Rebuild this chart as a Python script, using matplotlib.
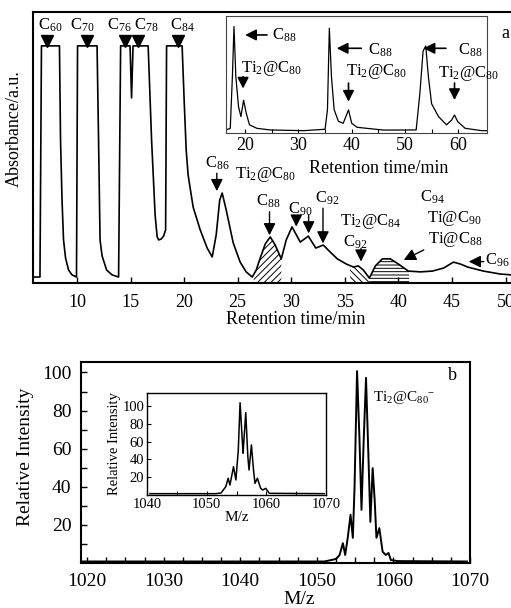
#!/usr/bin/env python
# HPLC chromatogram (a) and mass spectrum (b) of Ti2@C80
import numpy as np
import matplotlib
matplotlib.use('Agg')
from matplotlib import pyplot as plt

plt.rcParams['font.family'] = 'Liberation Serif'
plt.rcParams['mathtext.fontset'] = 'custom'
plt.rcParams['mathtext.rm'] = 'Liberation Serif'
plt.rcParams['mathtext.it'] = 'Liberation Serif:italic'
plt.rcParams['hatch.linewidth'] = 0.7

# ---- panel a: chromatogram (retention time, absorbance in % of frame height)
t_a = [5.89, 6.54, 6.68, 8.36, 8.46, 8.60, 8.74, 8.93, 9.21, 9.53, 9.95,
       10.05, 11.87, 12.01, 12.15, 12.34, 12.76, 13.27, 13.88,
       14.07, 14.95, 15.09, 15.23, 16.64, 16.96, 17.29, 17.48, 17.62, 17.85, 18.08, 18.27,
       18.36, 19.81, 20.00, 20.19, 20.37, 20.84, 21.50, 22.15, 22.62, 22.99, 23.32,
       23.55, 23.93, 24.58, 25.23, 25.79, 26.36, 26.73, 27.10, 27.57, 28.04, 28.50,
       29.07, 29.53, 30.07, 30.84, 31.59, 32.29, 32.99, 33.64, 34.30, 35.14, 35.79,
       36.26, 36.73, 37.29, 37.85, 38.50, 39.25, 40.00, 40.93, 42.06, 43.18, 44.21,
       45.14, 45.79, 46.45, 47.94, 49.53, 50.56]
abs_a = [2.2, 2.2, 87.5, 87.5, 52.8, 30.6, 15.9, 9.2, 4.8, 3.0, 2.2,
         87.5, 87.5, 52.8, 15.9, 10.0, 4.8, 3.0, 2.2,
         87.5, 87.5, 68.3, 87.5, 87.5, 52.8, 25.1, 17.0, 15.9, 16.2, 17.3, 19.6,
         87.5, 87.5, 67.5, 49.1, 39.9, 28.0, 19.6, 12.9, 9.6, 17.7, 30.6,
         33.2, 26.9, 14.8, 7.7, 4.1, 2.2, 4.8, 9.2, 14.4, 17.0, 14.0,
         8.9, 15.9, 20.7, 15.1, 17.3, 12.9, 14.0, 11.4, 8.9, 7.0, 5.9,
         6.3, 4.8, 1.8, 6.3, 8.9, 8.9, 7.0, 4.4, 4.1, 4.4, 5.5,
         7.7, 7.0, 5.9, 4.4, 3.3, 3.0]

# shaded fractions: (start, end, hatch)
fractions = [(26.5, 29.07, '/////'), (35.5, 37.29, '\\\\\\\\\\'), (37.29, 41.0, '-----')]

# top labels of saturated peaks
top_names = ['C$_{60}$', 'C$_{70}$', 'C$_{76}$', 'C$_{78}$', 'C$_{84}$']
top_text_t = [7.48, 10.51, 13.97, 16.43, 19.79]
top_mark_t = [7.16, 10.90, 14.49, 15.73, 19.47]

# other peak labels: (text, t, value)
peak_labels = [('C$_{86}$', 23.05, 44.2), ('Ti$_2$@C$_{80}$', 27.57, 39.9),
               ('C$_{88}$', 27.88, 30.0), ('C$_{90}$', 30.84, 27.3),
               ('C$_{92}$', 33.33, 31.3), ('Ti$_2$@C$_{84}$', 37.45, 22.6),
               ('C$_{92}$', 35.98, 15.2), ('C$_{94}$', 43.15, 31.8),
               ('Ti@C$_{90}$', 45.17, 23.9), ('Ti@C$_{88}$', 45.33, 15.9)]
# arrows: (tail t, tail v, head t, head v)
peak_arrows = [(23.05, 40.5, 23.05, 33.9), (27.97, 26.3, 27.97, 17.6),
               (30.47, 24.5, 30.47, 20.8), (31.62, 25.1, 31.62, 18.3),
               (32.96, 27.6, 32.96, 14.6), (36.51, 12.8, 36.51, 7.9),
               (42.37, 12.2, 40.5, 8.5), (47.97, 7.9, 46.57, 7.9)]

# ---- inset of panel a: recycling HPLC
t_in = [16.4, 17.2, 17.6, 17.9, 18.25, 18.75, 19.2, 19.7, 20.2, 20.8, 22.2, 24.7,
        31.0, 35.0, 35.45, 35.8, 36.2, 36.7, 37.5, 38.4, 39.4, 40.0, 41.0, 42.8,
        46.0, 52.1, 52.8, 53.4, 53.9, 54.4, 55.0, 56.3, 57.8, 58.75, 59.3, 59.9,
        61.3, 64.4, 65.4]
abs_in = [2.6, 4, 48, 91, 48, 22.5, 14, 28, 17, 7, 4, 2.6,
          2, 3.2, 20, 89.5, 48, 20, 10, 8.3, 19.7, 8.3, 4.9, 4,
          2.5, 2.6, 34, 70, 74.4, 48, 25, 14, 7, 11, 15.4, 9.7,
          4, 2, 2]
inset_labels = [('C$_{88}$', 27.3, 83.8), ('Ti$_2$@C$_{80}$', 24.9, 55.3),
                ('C$_{88}$', 45.3, 71.0), ('Ti$_2$@C$_{80}$', 44.7, 52.4),
                ('C$_{88}$', 62.3, 71.0), ('Ti$_2$@C$_{80}$', 61.9, 51.0)]
inset_arrows = [(24.1, 83.8, 20.0, 83.8), (19.6, 48.0, 19.6, 38.0),
                (41.8, 72.4, 37.2, 72.4), (39.4, 42.7, 39.4, 26.8),
                (57.7, 72.4, 53.5, 72.4), (59.3, 42.7, 59.3, 28.2)]

# ---- panel b: mass spectrum
mz_b = [1019.2, 1051.0, 1052.49, 1052.97, 1053.40, 1053.70, 1054.05, 1054.40, 1054.70,
        1054.92, 1055.25, 1055.56, 1055.83, 1056.12, 1056.42, 1056.73, 1056.99,
        1057.29, 1057.55, 1057.78, 1058.16, 1058.59, 1059.01, 1059.36, 1059.66,
        1060.53, 1069.6]
int_b = [0.8, 0.8, 2.1, 4.2, 10.4, 4.2, 13.8, 25.3, 13.2,
         39.5, 100.7, 65.8, 27.9, 64.7, 97.2, 56.8, 21.6,
         49.8, 33.2, 13.2, 18.3, 5.9, 4.2, 5.3, 1.6,
         1.0, 0.8]
mz_in = [1040.5, 1051.5, 1052.4, 1053.2, 1053.6, 1053.9, 1054.5, 1054.9, 1055.3,
         1055.6, 1056.0, 1056.1, 1056.55, 1056.9, 1057.1, 1057.5, 1057.85, 1058.1,
         1058.5, 1059.05, 1059.4, 1059.9, 1060.5, 1069.7]
int_in = [1.5, 1.5, 2.2, 9.3, 18.8, 11.2, 31.8, 16.9, 50.6,
          103.7, 58.1, 46.9, 92.5, 43.0, 28.1, 56.2, 28.1, 13.1,
          18.8, 7.5, 5.6, 7.5, 1.9, 1.5]

W, H = 511, 608
fig = plt.figure(figsize=(W / 100, H / 100), dpi=100)

def box(l, t, r, b):
    return [l / W, 1 - b / H, (r - l) / W, (b - t) / H]

big_head = '-|>,head_length=0.6,head_width=0.3'
small_head = '-|>,head_length=0.55,head_width=0.28'

# panel a
axa = fig.add_axes(box(33, 12, 513, 283))
axa.plot(t_a, abs_a, color='black', lw=1.2)
t_arr = np.array(t_a)
v_arr = np.array(abs_a)
for t0, t1, h in fractions:
    m = (t_arr >= t0) & (t_arr <= t1)
    tt = np.concatenate([[t0], t_arr[m], [t1]])
    vv = np.interp(tt, t_arr, v_arr)
    axa.fill_between(tt, 0, vv, facecolor='none', edgecolor='black', hatch=h, lw=0)
axa.set_xlim(5.89, 50.7)
axa.set_ylim(0, 100)
axa.set_yticks([])
axa.set_xticks(range(10, 55, 5))
axa.tick_params(direction='in', length=4, width=1, labelsize=13, pad=8)
for s in axa.spines.values():
    s.set_linewidth(1.5)
axa.spines['right'].set_visible(False)

for name, tt in zip(top_names, top_text_t):
    axa.text(tt, 95.2, name, ha='center', va='center', fontsize=12)
axa.plot(top_mark_t, [89.4] * len(top_mark_t), 'v', color='black', ms=8)
for name, tt, vv in peak_labels:
    axa.text(tt, vv, name, ha='center', va='center', fontsize=12)
axa.text(48.1, 8.5, 'C$_{96}$', ha='left', va='center', fontsize=12)
for x0, y0, x1, y1 in peak_arrows:
    axa.annotate('', xy=(x1, y1), xytext=(x0, y0),
                 arrowprops=dict(arrowstyle=big_head, color='black', lw=1,
                                 shrinkA=0, shrinkB=0, mutation_scale=12))

fig.text(14 / W, 1 - 129 / H, 'Absorbance/a.u.', rotation=90, ha='center', va='center', fontsize=13)
fig.text(296 / W, 1 - 319 / H, 'Retention time/min', ha='center', va='center', fontsize=13)
fig.text(505 / W, 1 - 33 / H, 'a', ha='center', va='center', fontsize=13)

# inset a
ina = fig.add_axes(box(226, 16, 487, 133))
ina.plot(t_in, abs_in, color='black', lw=0.9)
ina.set_xlim(16.4, 65.4)
ina.set_ylim(0, 100)
ina.set_yticks([])
ina.set_xticks([20, 30, 40, 50, 60])
ina.set_xticks(range(20, 65, 5), minor=True)
ina.tick_params(which='both', direction='in', length=3, width=0.8, labelsize=13, pad=3)
for s in ina.spines.values():
    s.set_linewidth(0.8)
    s.set_color('#444444')
for name, tt, vv in inset_labels:
    ina.text(tt, vv, name, ha='center', va='center', fontsize=12)
for x0, y0, x1, y1 in inset_arrows:
    ina.annotate('', xy=(x1, y1), xytext=(x0, y0),
                 arrowprops=dict(arrowstyle=small_head, color='black', lw=1.2,
                                 shrinkA=0, shrinkB=0, mutation_scale=12))
fig.text(379 / W, 1 - 168 / H, 'Retention time/min', ha='center', va='center', fontsize=13)

# panel b
axb = fig.add_axes(box(81, 362, 470, 563))
axb.plot(mz_b, int_b, color='black', lw=1.4)
axb.set_xlim(1019.2, 1069.6)
axb.set_ylim(0, 105.5)
axb.set_xticks(range(1020, 1080, 10))
axb.set_xticks(np.arange(1020, 1070, 2.5), minor=True)
axb.set_yticks(range(20, 120, 20))
axb.set_yticks(range(10, 110, 20), minor=True)
axb.tick_params(which='both', direction='in', length=4, width=1, labelsize=14, pad=7)
for s in axb.spines.values():
    s.set_linewidth(1.5)
axb.text(1061.4, 86.7, 'Ti$_2$@C$_{80}$$^{-}$', ha='center', va='center', fontsize=11)
fig.text(452 / W, 1 - 375 / H, 'b', ha='center', va='center', fontsize=13)
fig.text(26 / W, 1 - 457 / H, 'Relative Intensity', rotation=90, ha='center', va='center', fontsize=14)
fig.text(299 / W, 1 - 599 / H, 'M/z', ha='center', va='center', fontsize=14)

# inset b
inb = fig.add_axes(box(147, 393, 326, 495))
inb.plot(mz_in, int_in, color='black', lw=1.1)
inb.set_xlim(1040.5, 1069.7)
inb.set_ylim(0, 114.6)
inb.set_xticks(range(1040, 1080, 10))
inb.set_xticks(range(1045, 1070, 5), minor=True)
inb.set_yticks(range(20, 120, 20))
inb.tick_params(which='both', direction='in', length=3, width=0.8, labelsize=10.5, pad=2)
for s in inb.spines.values():
    s.set_linewidth(1.0)
inb.set_ylabel('Relative Intensity', fontsize=10.5, labelpad=1)
inb.set_xlabel('M/z', fontsize=11, labelpad=0)

fig.savefig('out.png', dpi=100)
